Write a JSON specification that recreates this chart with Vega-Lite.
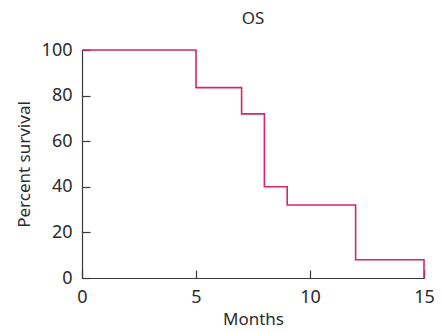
{
  "$schema": "https://vega.github.io/schema/vega-lite/v6.json",
  "width": 342,
  "height": 228,
  "autosize": {"type": "none"},
  "padding": {"left": 82, "top": 50, "right": 20, "bottom": 55},
  "background": "white",
  "config": {
    "view": {"stroke": null},
    "font": "Noto Sans",
    "axis": {
      "grid": false,
      "domainColor": "#3a3a3a",
      "domainWidth": 1.2,
      "tickColor": "#3a3a3a",
      "tickWidth": 1.2,
      "tickSize": -8,
      "labelPadding": 18,
      "labelFontSize": 18,
      "labelFlush": false,
      "labelColor": "#2b2b2b",
      "titleFontSize": 17,
      "titleFontWeight": "normal",
      "titleColor": "#2b2b2b"
    }
  },
  "title": {"text": "OS", "fontSize": 17, "fontWeight": "normal", "color": "#2b2b2b", "offset": 13},
  "data": {
    "values": [
      {"months": 0, "survival": 100},
      {"months": 5, "survival": 83.5},
      {"months": 7, "survival": 72},
      {"months": 8, "survival": 40},
      {"months": 9, "survival": 32},
      {"months": 12, "survival": 8},
      {"months": 15, "survival": 0}
    ]
  },
  "mark": {"type": "line", "interpolate": "step-after", "color": "#d6246e", "strokeWidth": 1.6},
  "encoding": {
    "x": {
      "field": "months", "type": "quantitative",
      "scale": {"domain": [0, 15], "nice": false},
      "axis": {"values": [0, 5, 10, 15], "title": "Months", "titlePadding": 5}
    },
    "y": {
      "field": "survival", "type": "quantitative",
      "scale": {"domain": [0, 100], "nice": false},
      "axis": {"values": [0, 20, 40, 60, 80, 100], "title": "Percent survival", "titlePadding": 8}
    }
  }
}
